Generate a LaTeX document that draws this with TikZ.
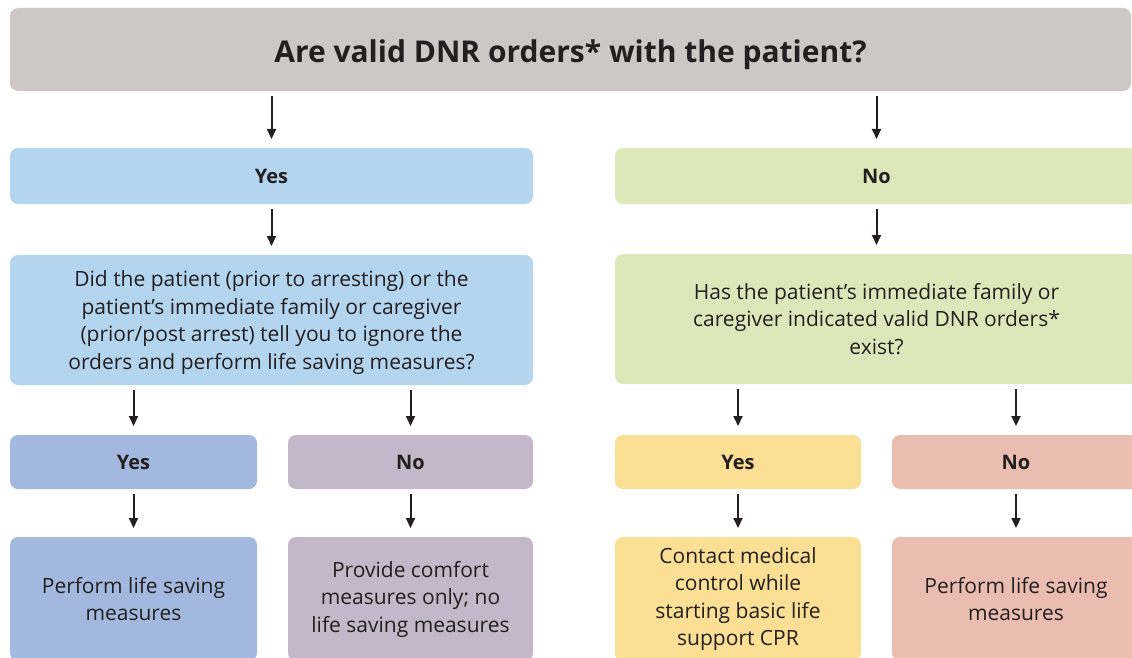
\documentclass[tikz,border=0pt]{standalone}
\usepackage{fontspec}
\setmainfont{Open Sans}
\usetikzlibrary{arrows.meta}

\definecolor{topgray}{RGB}{205,200,198}
\definecolor{yesblue}{RGB}{179,213,240}
\definecolor{nogreen}{RGB}{221,232,186}
\definecolor{lyes}{RGB}{163,184,222}
\definecolor{lno}{RGB}{196,183,201}
\definecolor{ryes}{RGB}{250,223,149}
\definecolor{rno}{RGB}{235,188,176}
\definecolor{ink}{RGB}{35,31,32}

\begin{document}
\begin{tikzpicture}[x=1pt,y=-1pt,->,>={Triangle[length=10pt,width=9pt]},
  shorten <=4pt,shorten >=8pt,line width=2pt,draw=ink,text=ink,
  box/.style={rounded corners=8pt,inner sep=0pt,align=center,
    font=\fontsize{21}{27.5}\selectfont},
  head/.style={box,font=\fontsize{20}{27.5}\selectfont\bfseries}]

  \clip (0,0) rectangle (1132,658);

  \node[box,fill=topgray,minimum width=1121pt,minimum height=83pt,
    text height=27pt,text depth=0pt,
    font=\fontsize{30}{34}\selectfont\bfseries] (top) at (570.5,49.5)
    {Are valid DNR orders* with the patient?};

  \node[head,fill=yesblue,minimum width=523pt,minimum height=56pt] (yes) at (271.5,176) {Yes};
  \node[head,fill=nogreen,minimum width=523pt,minimum height=56pt] (no) at (876.5,176) {No};

  \node[box,fill=yesblue,minimum width=523pt,minimum height=130pt,
    text depth=0pt] (lq) at (271.5,320)
    {Did the patient (prior to arresting) or the\\
     patient's immediate family or caregiver\\
     (prior/post arrest) tell you to ignore the\\
     orders and perform life saving measures?};
  \node[box,fill=nogreen,minimum width=523pt,minimum height=130pt] (rq) at (876.5,319)
    {Has the patient's immediate family or\\
     caregiver indicated valid DNR orders*\\
     exist?};

  \node[head,fill=lyes,minimum width=247pt,minimum height=54pt] (yy) at (133.5,462) {Yes};
  \node[head,fill=lno,minimum width=245pt,minimum height=54pt] (yn) at (410.5,462) {No};
  \node[head,fill=ryes,minimum width=246pt,minimum height=54pt] (ny) at (738,462) {Yes};
  \node[head,fill=rno,minimum width=248pt,minimum height=54pt] (nn) at (1016,462) {No};

  \node[box,fill=lyes,minimum width=247pt,minimum height=124pt] (ay) at (133.5,599)
    {Perform life saving\\measures};
  \node[box,fill=lno,minimum width=245pt,minimum height=124pt] (an) at (410.5,599)
    {Provide comfort\\measures only; no\\life saving measures};
  \node[box,fill=ryes,minimum width=246pt,minimum height=124pt] (by) at (738,599)
    {Contact medical\\control while\\starting basic life\\support CPR};
  \node[box,fill=rno,minimum width=248pt,minimum height=124pt] (bn) at (1016,599)
    {Perform life saving\\measures};

  \path
    (yes |- top.south) edge (yes)
    (no |- top.south) edge (no)
    (yes) edge (lq)
    (no) edge (rq)
    (yy |- lq.south) edge (yy)
    (yn |- lq.south) edge (yn)
    (ny |- rq.south) edge (ny)
    (nn |- rq.south) edge (nn)
    (yy) edge (ay)
    (yn) edge (an)
    (ny) edge (by)
    (nn) edge (bn);
\end{tikzpicture}
\end{document}
